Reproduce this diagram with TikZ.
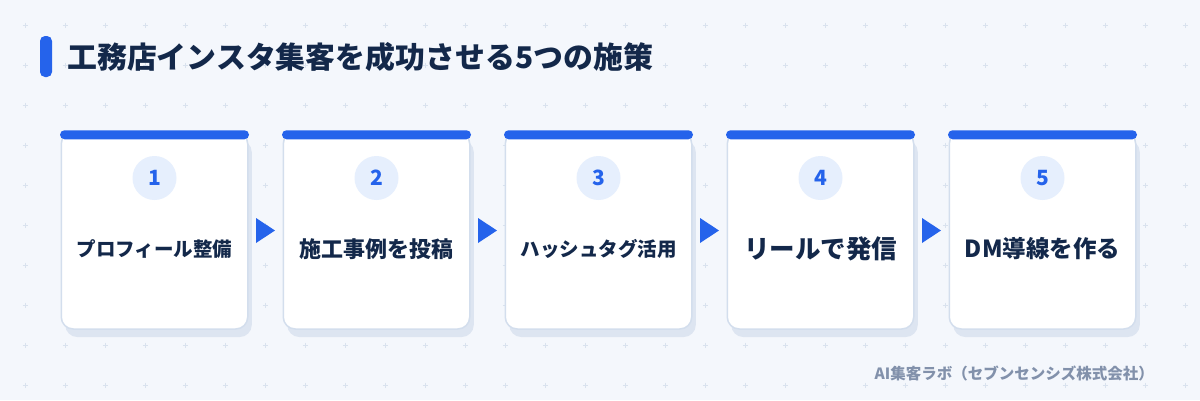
\documentclass[tikz,border=0pt]{standalone}
\usepackage{fontspec}
\setmainfont{Noto Sans CJK JP}
\usetikzlibrary{shadows,calc}
\definecolor{bgc}{HTML}{F4F7FC}
\definecolor{plusc}{HTML}{D9E2EE}
\definecolor{titlec}{HTML}{13284A}
\definecolor{bluec}{HTML}{2563EB}
\definecolor{circc}{HTML}{E6EFFD}
\definecolor{borderc}{HTML}{D3DEED}
\definecolor{shadowc}{HTML}{DDE5F1}
\definecolor{footc}{HTML}{8291AB}
\newcommand{\fs}[1]{\fontsize{#1pt}{#1pt}\selectfont\bfseries}
\tikzset{
  plusmark/.style={draw=plusc, line width=0.9pt},
  cardbox/.style={rectangle, rounded corners=12pt, fill=white, draw=borderc, line width=1.5pt,
    minimum width=186.5pt, minimum height=197pt, inner sep=0pt,
    general shadow={fill=shadowc, shadow xshift=4pt, shadow yshift=-8pt}},
  topbar/.style={fill=bluec, rounded corners=4.5pt},
  numcirc/.style={circle, fill=circc, minimum size=44pt, inner sep=0pt, text=bluec, font=\fs{21}},
  lbl/.style={inner sep=0pt, text=titlec},
  tri/.style={fill=bluec},
}
\begin{document}
\begin{tikzpicture}[x=1pt,y=-1pt]
\fill[bgc] (0,0) rectangle (1200,400);
\useasboundingbox (0,0) rectangle (1200,400);
\foreach \i in {0,...,29} {
  \foreach \j in {0,...,9} {
    \draw[plusmark] ({25+40*\i-2.5},{25+40*\j}) -- ++(5,0) ({25+40*\i},{25+40*\j-2.5}) -- ++(0,5);
  }
}
% title
\fill[bluec, rounded corners=5pt] (40,36) rectangle (52,77);
\node[anchor=west, inner sep=0pt, text=titlec, font=\fs{29.9}] (title) at (67,57) {工務店インスタ集客を成功させる5つの施策};
% cards
\foreach \k/\lab/\sz in {1/プロフィール整備/19.5, 2/施工事例を投稿/22, 3/ハッシュタグ活用/19.5, 4/リールで発信/25.5, 5/DM導線を作る/23.5} {
  \node[cardbox] (card\k) at ({154.5+222*(\k-1)},230.5) {};
  \fill[topbar] ([xshift=-0.5pt,yshift=1pt]card\k.north west) rectangle ([xshift=0.5pt,yshift=-8pt]card\k.north east);
  \node[numcirc] (num\k) at ({154.5+222*(\k-1)},178) {\k};
  \node[lbl, font=\fs{\sz}] (lab\k) at ({154.5+222*(\k-1)},249) {\lab};
}
% arrows
\foreach \a/\b in {1/2,2/3,3/4,4/5} {
  \coordinate (m\a) at ($(card\a.east)!0.5!(card\b.west)$);
  \fill[tri] ($(m\a)+(-9.5,-12.5)$) -- ($(m\a)+(9.5,0)$) -- ($(m\a)+(-9.5,12.5)$) -- cycle;
}
% footer
\node[anchor=east, inner sep=0pt, text=footc, font=\fs{15.5}] (foot) at (1154,373) {AI集客ラボ（セブンセンシズ株式会社）};
\end{tikzpicture}
\end{document}
